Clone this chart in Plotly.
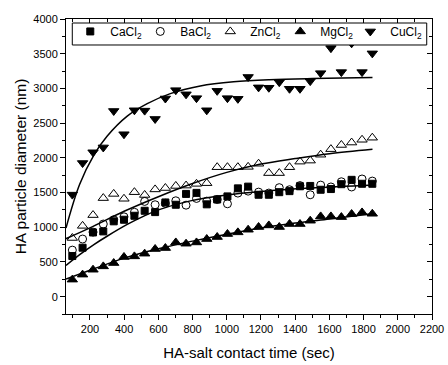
import plotly.graph_objects as go

# ---- data ----
times = [97, 157, 218, 278, 339, 399, 460, 520, 581, 641, 702, 762, 823, 883, 944,
         1004, 1065, 1125, 1186, 1246, 1307, 1367, 1428, 1488, 1549, 1609, 1670, 1730, 1791, 1851]

cacl2 = [585, 705, 925, 940, 1085, 1108, 1165, 1237, 1218, 1357, 1324, 1480, 1495, 1330, 1400,
         1444, 1560, 1585, 1468, 1468, 1505, 1520, 1590, 1595, 1540, 1550, 1620, 1683, 1626, 1626]
bacl2 = [670, 830, 930, 1046, 1108, 1150, 1215, 1372, 1324, 1345, 1381, 1318, 1415, 1376, 1400,
         1338, 1492, 1520, 1506, 1492, 1570, 1540, 1600, 1468, 1607, 1580, 1655, 1580, 1695, 1665]
zncl2 = [845, 1020, 1175, 1420, 1480, 1410, 1505, 1465, 1545, 1565, 1595, 1600, 1625, 1635, 1865,
         1865, 1865, 1870, 1915, 1780, 1780, 1865, 1945, 1960, 2045, 2125, 2185, 2220, 2260, 2290]
mgcl2 = [245, 317, 388, 436, 484, 571, 580, 619, 686, 700, 781, 763, 781, 830, 859,
         902, 926, 964, 1003, 1026, 1003, 1046, 1046, 1094, 1156, 1156, 1146, 1190, 1213, 1194]
cucl2 = [1470, 1925, 2080, 2150, 2675, 2340, 2685, 2680, 2560, 2855, 2975, 2915, 2860, 2685, 2965,
         2860, 2850, 3165, 3015, 3010, 3090, 2995, 2995, 3105, 3220, 3580, 3235, 3650, 3235, 3505]

# fitted curves
fit_cu_x = [60, 140, 223, 300, 418, 535, 670, 845, 1040, 1250, 1500, 1852]
fit_cu_y = [990, 1620, 2040, 2310, 2600, 2780, 2925, 3035, 3095, 3125, 3142, 3156]
fit_zn_x = [60, 200, 400, 600, 800, 1000, 1200, 1400, 1600, 1852]
fit_zn_y = [835, 990, 1230, 1440, 1630, 1790, 1910, 1990, 2060, 2125]
fit_ca_x = [60, 140, 223, 300, 418, 515, 600, 787, 1000, 1200, 1487, 1860]
fit_ca_y = [450, 605, 750, 870, 1040, 1160, 1250, 1380, 1465, 1515, 1565, 1610]
fit_mg_x = [60, 200, 400, 600, 800, 1000, 1200, 1400, 1600, 1850]
fit_mg_y = [255, 380, 555, 690, 800, 900, 990, 1060, 1120, 1195]

names = ["CaCl<sub>2</sub>", "BaCl<sub>2</sub>", "ZnCl<sub>2</sub>", "MgCl<sub>2</sub>", "CuCl<sub>2</sub>"]

FONT = "Liberation Sans, Arial, sans-serif"
fig = go.Figure()

# fit lines
for fx, fy in [(fit_cu_x, fit_cu_y), (fit_zn_x, fit_zn_y), (fit_ca_x, fit_ca_y), (fit_mg_x, fit_mg_y)]:
    fig.add_trace(go.Scatter(x=fx, y=fy, mode="lines", line=dict(color="black", width=1.5, shape="spline", smoothing=1),
                             showlegend=False, hoverinfo="skip"))

series = [cacl2, bacl2, zncl2, mgcl2, cucl2]
symbols = ["square", "circle-open", "triangle-up-open", "triangle-up", "triangle-down"]
sizes = [7, 8, 9, 9, 9]
lw = [25, 25, 25, 25, 38]
for name, ys, sym, sz, w in zip(names, series, symbols, sizes, lw):
    fig.add_trace(go.Scatter(x=times, y=ys, mode="markers", name=name, legendwidth=w,
                             marker=dict(symbol=sym, size=sz, color="black",
                                         line=dict(color="black", width=1))))

# dummy trace for mirror axes
fig.add_trace(go.Scatter(x=[None], y=[None], xaxis="x2", yaxis="y2", showlegend=False, hoverinfo="skip"))

XR = [60, 2200]
YR = [-250, 4000]
fig.update_layout(
    width=448, height=365,
    margin=dict(l=66, r=16, t=19, b=51, autoexpand=False),
    paper_bgcolor="white", plot_bgcolor="white",
    font=dict(family=FONT, color="black", size=11),
    xaxis=dict(range=XR, showgrid=False, zeroline=False, showline=True, linecolor="black", linewidth=1,
               ticks="outside", ticklen=5, tickwidth=1, tickcolor="black", dtick=200, tick0=0,
               minor=dict(ticks="outside", ticklen=3, dtick=100, tick0=0, tickcolor="black", showgrid=False),
               tickfont=dict(size=11, family=FONT),
               title=dict(text="HA-salt contact time (sec)", font=dict(size=15, family=FONT), standoff=13)),
    yaxis=dict(range=YR, showgrid=False, zeroline=False, showline=True, linecolor="black", linewidth=1,
               ticks="outside", ticklen=5, tickwidth=1, tickcolor="black", dtick=500, tick0=0,
               minor=dict(ticks="outside", ticklen=3, dtick=250, tick0=0, tickcolor="black", showgrid=False),
               tickfont=dict(size=11, family=FONT),
               title=dict(text="HA particle diameter (nm)", font=dict(size=15.5, family=FONT), standoff=2)),
    xaxis2=dict(range=XR, overlaying="x", side="top", showgrid=False, zeroline=False, showline=True,
                linecolor="black", linewidth=1, ticks="inside", ticklen=5, tickcolor="black", dtick=200, tick0=0,
                minor=dict(ticks="inside", ticklen=3, dtick=100, tick0=0, tickcolor="black", showgrid=False),
                showticklabels=False),
    yaxis2=dict(range=YR, overlaying="y", side="right", showgrid=False, zeroline=False, showline=True,
                linecolor="black", linewidth=1, ticks="inside", ticklen=5, tickcolor="black", dtick=500, tick0=0,
                minor=dict(ticks="inside", ticklen=3, dtick=250, tick0=0, tickcolor="black", showgrid=False),
                showticklabels=False),
    legend=dict(orientation="h", x=0.0117, y=1.007, xanchor="left", yanchor="top",
                bgcolor="rgba(0,0,0,0)", borderwidth=0,
                font=dict(size=12, family=FONT), itemwidth=30, tracegroupgap=0),
    shapes=[dict(type="rect", xref="paper", yref="paper", x0=0.0172, x1=0.9856, y0=0.9119, y1=0.9864,
                 fillcolor="white", line=dict(color="black", width=1), layer="above")],
)

fig.write_html("out.html")
